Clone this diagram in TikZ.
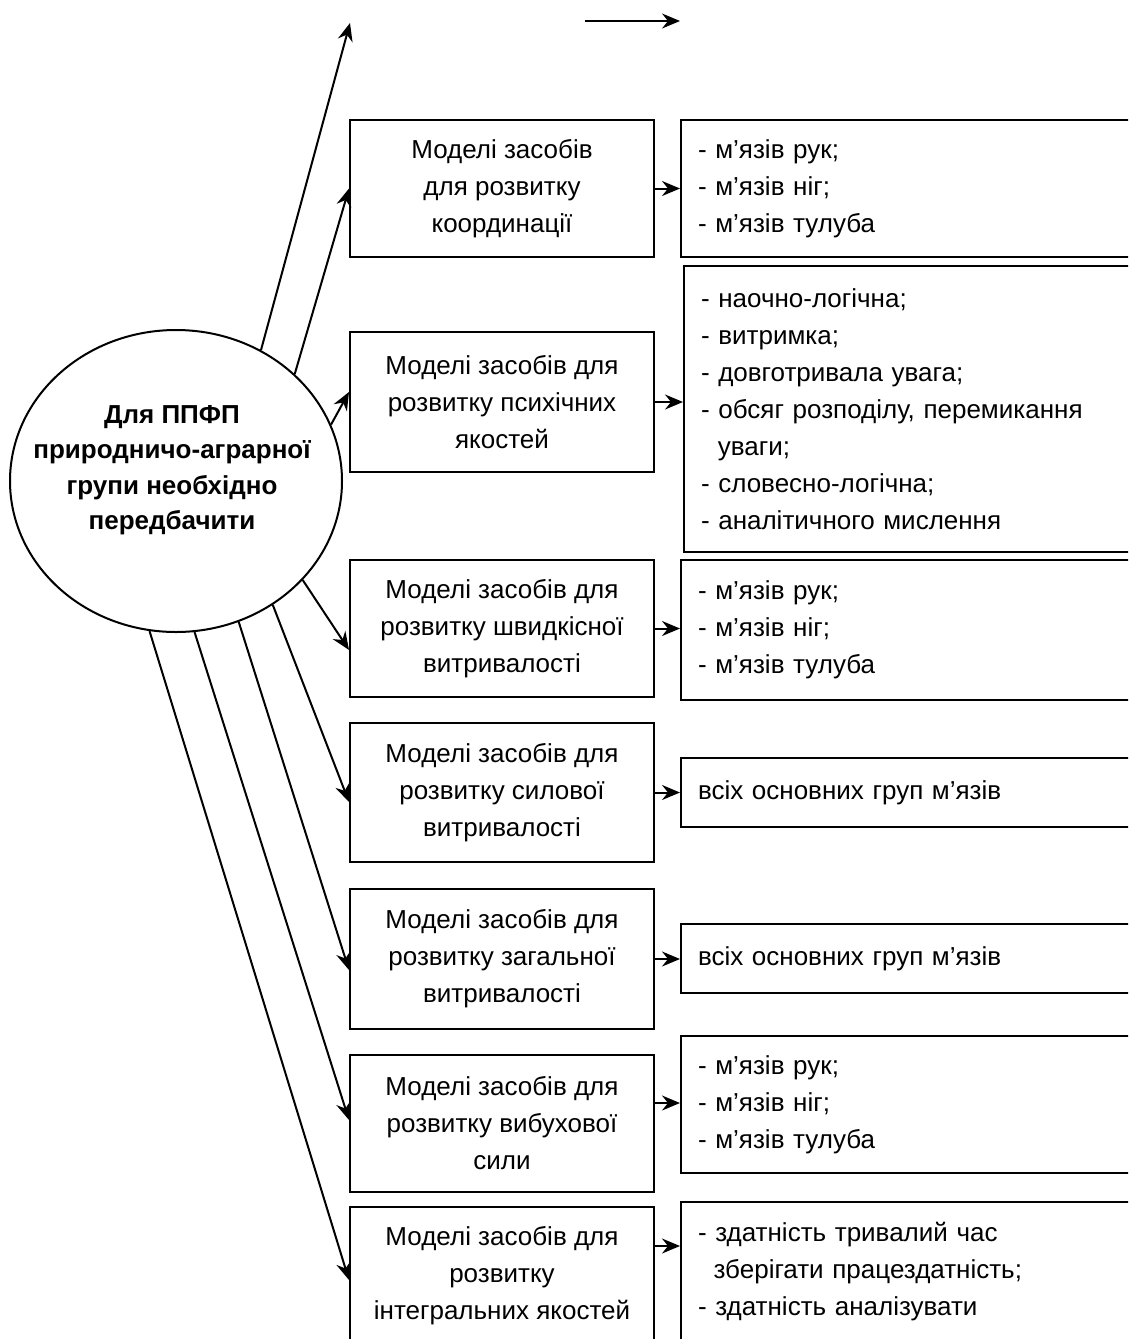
\documentclass[tikz,border=0pt]{standalone}
\usepackage{fontspec}
\setmainfont{Liberation Sans}
\usetikzlibrary{shapes.geometric,arrows.meta,calc}

\begin{document}
\begin{tikzpicture}[x=1pt,y=-1pt,
  line width=2pt,
  txt/.style={font=\fontsize{26}{37}\selectfont},
  mbox/.style={draw, rectangle, txt, minimum width=304pt, align=center, inner sep=0pt},
  rbox/.style={draw, rectangle, txt, anchor=west, text width=430pt, inner xsep=17pt, inner ysep=0pt, align=left},
  arr/.style={-{Stealth[length=18pt,width=15pt,inset=6pt]}, line width=2pt},
]
\useasboundingbox (0,0) rectangle (1128,1339);
\clip (0,0) rectangle (1128,1339);

% central ellipse
\node[draw, ellipse, minimum width=332pt, minimum height=302pt, inner sep=0pt] (c) at (176,481) {};
\node[align=center, font=\bfseries\fontsize{26}{35.5}\selectfont] (ctext) at (172,470)
  {Для ППФП\\природничо-аграрної\\групи необхідно\\передбачити};

% middle column
\node[mbox, minimum height=137pt] (m1) at (502,188.5) {Моделі засобів\\для розвитку\\координації};
\node[mbox, minimum height=140pt] (m2) at (502,402) {Моделі засобів для\\розвитку психічних\\якостей};
\node[mbox, minimum height=137pt] (m3) at (502,628.5) {Моделі засобів для\\розвитку швидкісної\\витривалості};
\node[mbox, minimum height=139pt] (m4) at (502,792.5) {Моделі засобів для\\розвитку силової\\витривалості};
\node[mbox, minimum height=140pt] (m5) at (502,959) {Моделі засобів для\\розвитку загальної\\витривалості};
\node[mbox, minimum height=137pt] (m6) at (502,1123.5) {Моделі засобів для\\розвитку вибухової\\сили};
\node[mbox, minimum height=137pt] (m7) at (502,1275.5) {Моделі засобів для\\розвитку\\інтегральних якостей};

% right column
\node[rbox, minimum height=137pt] (r1) at (680,188.5) {- м’язів рук;\\- м’язів ніг;\\- м’язів тулуба};
\node[rbox, minimum height=286pt] (r2) at (683,409) {- наочно-логічна;\\- витримка;\\- довготривала увага;\\- обсяг розподілу, перемикання\\\hspace*{0.65em}уваги;\\- словесно-логічна;\\- аналітичного мислення};
\node[rbox, minimum height=140pt] (r3) at (680,630) {- м’язів рук;\\- м’язів ніг;\\- м’язів тулуба};
\node[rbox, minimum height=69pt] (r4) at (680,792.5) {всіх основних груп м’язів};
\node[rbox, minimum height=69pt] (r5) at (680,958.5) {всіх основних груп м’язів};
\node[rbox, minimum height=137pt] (r6) at (680,1104.5) {- м’язів рук;\\- м’язів ніг;\\- м’язів тулуба};
\node[rbox, minimum height=140pt] (r7) at (680,1272) {- здатність тривалий час\\\hspace*{0.6em}зберігати працездатність;\\- здатність аналізувати};

% free arrow ends at the top
\coordinate (up) at (350,23);
\coordinate (hs) at (585,21);
\coordinate (he) at (680,21);

% arrows from the ellipse
\draw[arr] (c.57) -- (up);
\draw[arr] (c.42) -- (m1.west);
\draw[arr] (c.20) -- ($(m2.west)+(0,-10)$);
\draw[arr] (c.-38) -- ($(m3.west)+(0,21.5)$);
\draw[arr] (c.-52) -- ($(m4.west)+(0,9.5)$);
\draw[arr] (c.-66) -- ($(m5.west)+(0,11)$);
\draw[arr] (c.-83) -- ($(m6.west)+(0,-3.5)$);
\draw[arr] (c.-100) -- ($(m7.west)+(0,4.5)$);

% top horizontal arrow
\draw[arr] (hs) -- (he);

% arrows between the columns
\draw[arr] (m1.east) -- (m1.east -| r1.west);
\draw[arr] (m2.east) -- (m2.east -| r2.west);
\draw[arr] (m3.east) -- (m3.east -| r3.west);
\draw[arr] (m4.east) -- (m4.east -| r4.west);
\draw[arr] (m5.east) -- (m5.east -| r5.west);
\coordinate (a6) at ($(m6.east)+(0,-20.5)$);
\draw[arr] (a6) -- (a6 -| r6.west);
\coordinate (a7) at ($(m7.east)+(0,-29.5)$);
\draw[arr] (a7) -- (a7 -| r7.west);
\end{tikzpicture}
\end{document}
